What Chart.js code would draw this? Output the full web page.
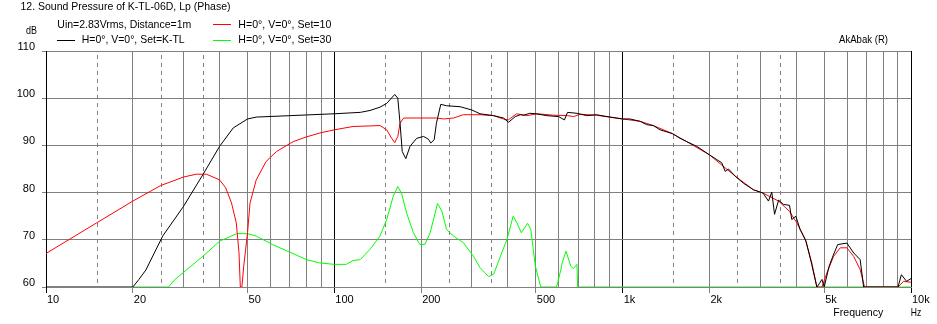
<!DOCTYPE html>
<html><head><meta charset="utf-8">
<script src="https://cdn.jsdelivr.net/npm/chart.js@4"></script>
<style>html,body{margin:0;padding:0;background:#fff;overflow:hidden}canvas{display:block}</style>
</head><body>
<canvas id="c" width="937" height="324"></canvas>
<script>
// ---- Data (frequency in Hz, level in dB) ----
const blackFreq = [10,20,21,22.2,25.4,30,35,40,44.6,50,53.6,70,100,123,133,144,152,162,166,169,172,177,183,193,204,212,216,222,226,234,245,273,300,320,357,386,402,424,442,453,476,500,546,600,628,644,694,750,810,905,1000,1060,1149,1211,1278,1347,1488,1581,1668,1807,2000,2120,2208,2267,2328,2455,2622,2842,3069,3204,3290,3363,3474,3611,3790,3860,3986,4125,4326,4525,4715,4820,4910,5000,5200,5381,5570,5995,6330,6663,6850,9015,9260,9660,10000];
const blackDb   = [60,60,61.6,63.6,70.8,77.1,83.8,89.8,93.7,95.6,96.0,96.3,96.7,97.0,97.4,98.1,98.9,100.8,100.0,94.7,88.7,87.2,89.8,91.5,91.9,91.3,90.5,91.2,94.7,98.7,98.4,98.2,97.5,96.7,96.3,95.8,94.9,96.1,96.5,96.4,96.8,96.7,96.3,96.1,95.4,97.0,96.8,96.3,96.5,96.0,95.6,95.6,95.1,94.4,94.2,93.3,92.5,91.5,90.8,89.8,88.0,87.0,86.3,84.5,85.0,83.5,82.0,80.6,79.9,78.2,80.1,75.4,78.4,77.5,77.3,74.3,75.0,72.2,69.7,64.8,60,60.8,61.6,60,64.4,66.8,69.0,69.3,67.2,65.8,60,60,62.6,61.2,61.8];

const redFreq = [10,15,20,25,30,33.2,36,40,42,44,45.7,46.7,47.2,47.8,48.5,50,51,53.6,58,63,72,80,90,100,116,144,152,158,162,166,169,174,183,226,239,259,280,320,357,386,401,429,465,505,576,644,676,711,810,1000,1149,1278,1488,1668,2000,2455,2842,3069,3474,3790,4018,4297,4530,4715,4910,5110,5390,5683,5995,6325,6663,6900,9015,9430,10000];
const redDb   = [67.1,73.6,78.2,81.5,83.3,83.9,83.9,82.7,81.0,77.8,73.6,67.3,60,60,64.4,71.5,77.8,82.7,86.6,88.7,90.8,91.8,92.7,93.3,94.0,94.2,93.3,91.5,90.6,91.9,94.7,95.8,95.8,95.8,95.6,95.8,96.5,96.5,96.3,95.6,95.4,96.7,96.3,96.7,96.4,96.3,96.1,96.6,96.4,95.6,95.1,94.2,92.5,90.8,88.0,83.5,80.6,79.9,78.2,76.0,73.6,70.1,65.1,60,60,63.0,66.5,68.3,68.3,66.5,63.7,60,60,61.2,61.0];

const greenFreq = [20,26.6,28,35,40,45.8,50,53.6,61,70,80,89,100,110,116,123,133,144,152,160,166,171,178,188,198,206,215,228,236,245,259,280,304,320,343,357,381,397,417,430,445,468,480,498,502,520,590,610,617,636,661,675,694,698,10000];
const greenDb   = [60,60,61.6,66.5,69.7,71.3,71.3,70.8,69.0,67.4,65.8,65.1,64.8,64.8,65.6,65.8,68.0,70.8,74.3,79.2,81.3,79.9,75.7,71.5,69.0,69.0,71.5,77.7,76.1,72.2,70.8,69.4,66.5,64.1,62.2,62.7,67.3,70.1,75.0,73.6,71.5,73.5,72.2,64.4,63.6,60,60,63.6,65.1,67.6,64.4,63.9,64.8,60,60];

// ---- Axis ticks ----
const xTickValues = [10,15,20,25,30,35,40,50,60,70,80,90,100,150,200,250,300,350,400,500,600,700,800,900,1000,1500,2000,2500,3000,3500,4000,5000,6000,7000,8000,9000,10000];
const xLabelValues = [10,20,50,100,200,500,1000,2000,5000,10000];
const xLabelTexts  = ['10','20','50','100','200','500','1k','2k','5k','10k'];
const dashedValues = [15,25,35,150,250,350,1500,2500,3500];
const decadeValues = [10,100,1000,10000];
const yTickValues  = [60,70,80,90,100,110];

const seriesNames = ['H=0°, V=0°, Set=K-TL','H=0°, V=0°, Set=10','H=0°, V=0°, Set=30'];
const seriesColors = ['#000000','#ff0000','#00ff00'];

const toPts = (fs, ds) => fs.map((f, i) => ({x: f, y: ds[i]}));
const near = (v, arr) => arr.some(a => Math.abs(a - v) < 1e-6 * a);

const FONT = '"Liberation Sans", Arial, sans-serif';
Chart.defaults.font.family = FONT;
Chart.defaults.font.size = 11;
Chart.defaults.color = '#000';

const dashedGrid = {
  id: 'dashedGrid',
  beforeDatasetsDraw(chart) {
    const {ctx, chartArea: a, scales: {x}} = chart;
    ctx.save();
    ctx.strokeStyle = '#808080';
    ctx.lineWidth = 1;
    ctx.setLineDash([4, 4]);
    dashedValues.forEach(v => {
      const px = Math.round(x.getPixelForValue(v)) + 0.5;
      ctx.beginPath();
      ctx.moveTo(px, a.top + 4);
      ctx.lineTo(px, a.bottom);
      ctx.stroke();
    });
    ctx.restore();
  }
};

function fitText(ctx, text, x, y, width) {
  ctx.font = '11px ' + FONT;
  const w = ctx.measureText(text).width;
  ctx.save();
  ctx.translate(x, y);
  ctx.scale(width / w, 1);
  ctx.fillText(text, 0, 0);
  ctx.restore();
}

const texts = {
  id: 'texts',
  afterDraw(chart) {
    const ctx = chart.ctx;
    ctx.save();
    ctx.fillStyle = '#000';
    ctx.textBaseline = 'alphabetic';
    ctx.textAlign = 'left';
    fitText(ctx, '12. Sound Pressure of K-TL-06D, Lp (Phase)', 20.5, 10, 210);
    fitText(ctx, 'Uin=2.83Vrms, Distance=1m', 57.3, 28, 134);
    fitText(ctx, 'dB', 26, 34, 11);
    fitText(ctx, 'AkAbak (R)', 839, 43, 49);
    fitText(ctx, 'Frequency', 833.3, 315.5, 50);
    fitText(ctx, 'Hz', 910.7, 315.5, 10.5);
    const legendPos = [[57, 40, 81.7, 43, 103], [213, 24, 238.3, 28, 93], [213, 40, 238.3, 43, 93]];
    legendPos.forEach((p, i) => {
      ctx.strokeStyle = seriesColors[i];
      ctx.lineWidth = 1;
      ctx.beginPath();
      ctx.moveTo(p[0], p[1] + 0.5);
      ctx.lineTo(p[0] + 18, p[1] + 0.5);
      ctx.stroke();
      fitText(ctx, seriesNames[i], p[2], p[3], p[4]);
    });
    ctx.restore();
  }
};

new Chart(document.getElementById('c'), {
  type: 'line',
  data: {
    datasets: [
      {label: seriesNames[0], data: toPts(blackFreq, blackDb), borderColor: seriesColors[0]},
      {label: seriesNames[1], data: toPts(redFreq, redDb), borderColor: seriesColors[1]},
      {label: seriesNames[2], data: toPts(greenFreq, greenDb), borderColor: seriesColors[2]}
    ]
  },
  options: {
    responsive: false,
    animation: false,
    devicePixelRatio: 1,
    layout: {padding: {top: 51, right: 26, left: 0, bottom: 0}},
    elements: {line: {borderWidth: 1, tension: 0}, point: {radius: 0}},
    plugins: {legend: {display: false}, title: {display: false}, tooltip: {enabled: false}},
    scales: {
      x: {
        type: 'logarithmic', position: 'bottom', min: 10, max: 10000,
        afterBuildTicks: s => { s.ticks = xTickValues.map(v => ({value: v})); },
        afterFit: s => { s.height = 37; s.paddingLeft = 0; s.paddingRight = 0; },
        ticks: {
          autoSkip: false, maxRotation: 0, minRotation: 0, align: 'start', labelOffset: 1, padding: 0,
          callback: v => { const i = xLabelValues.findIndex(a => Math.abs(a - v) < 1e-6 * a); return i >= 0 ? xLabelTexts[i] : ''; }
        },
        grid: {
          lineWidth: 1, tickLength: 6,
          color: c => { const v = c.tick ? c.tick.value : 0; return near(v, decadeValues) ? '#000' : near(v, dashedValues) ? 'rgba(0,0,0,0)' : '#808080'; },
          tickColor: c => { const v = c.tick ? c.tick.value : 0; return near(v, xLabelValues) ? (near(v, decadeValues) ? '#000' : '#808080') : 'rgba(0,0,0,0)'; }
        },
        border: {color: '#808080', width: 1}
      },
      y: {
        type: 'linear', min: 60, max: 110,
        afterBuildTicks: s => { s.ticks = yTickValues.map(v => ({value: v})); },
        afterFit: s => { s.width = 46; },
        ticks: {padding: 7, labelOffset: -4},
        grid: {color: '#808080', tickColor: '#808080', lineWidth: 1, tickLength: 4},
        border: {color: '#000', width: 1}
      }
    }
  },
  plugins: [dashedGrid, texts]
});
</script>
</body></html>
